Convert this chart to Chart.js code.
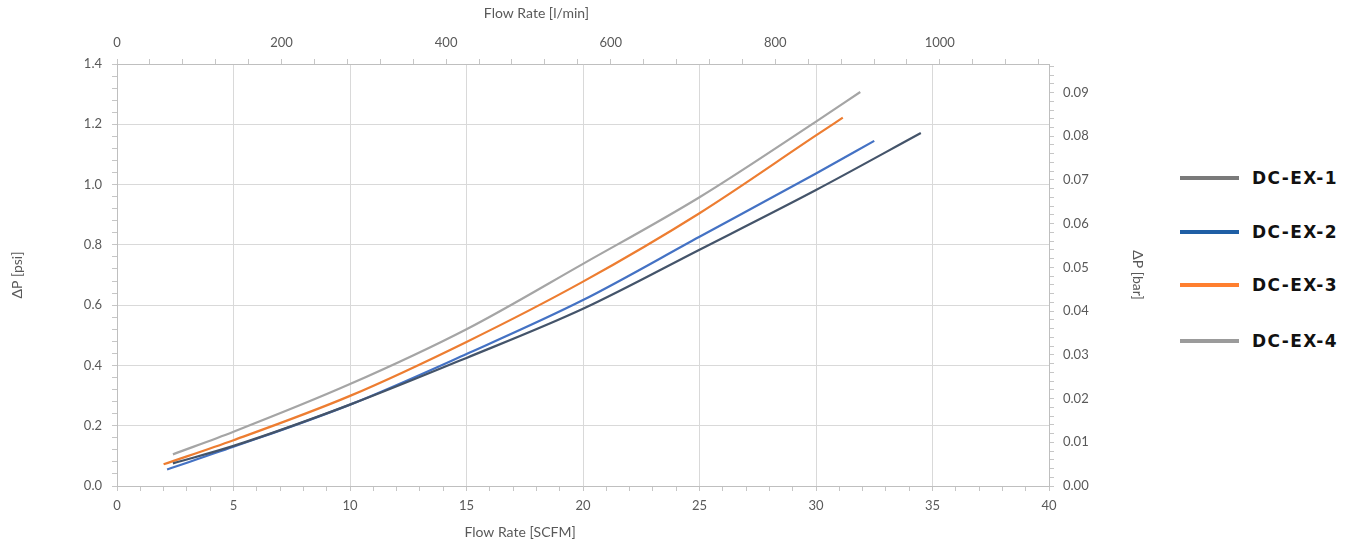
<!DOCTYPE html>
<html>
<head>
<meta charset="utf-8">
<script src="https://cdn.jsdelivr.net/npm/chart.js@4/dist/chart.umd.min.js"></script>
<style>
  html, body { margin: 0; padding: 0; background: #ffffff; }
  #wrap { position: relative; width: 1356px; height: 545px; }
  #c { position: absolute; left: 0; top: 0; }
  #legend { position: absolute; left: 1178px; top: 0; }
  .item { position: absolute; left: 0; width: 180px; height: 24px; }
  .swatch { position: absolute; left: 2px; width: 59px; height: 4px; top: 10px; }
  .lbl { position: absolute; left: 74px; top: 0; font-family: "DejaVu Sans", sans-serif; font-weight: bold; font-size: 17px;
         line-height: 24px; letter-spacing: 1.4px; color: #111111; white-space: nowrap; }
</style>
</head>
<body>
<div id="wrap">
  <canvas id="c" width="1160" height="545"></canvas>
  <div id="legend"></div>
</div>
<script>
// ---- data ----
const seriesNames = ['DC-EX-1', 'DC-EX-2', 'DC-EX-3', 'DC-EX-4'];
const flowEx1 = [2.4, 5, 10, 15, 20, 25, 30, 34.5];
const dpEx1   = [0.075, 0.133, 0.270, 0.425, 0.588, 0.784, 0.982, 1.171];
const flowEx2 = [2.15, 5, 10, 15, 20, 25, 30, 32.5];
const dpEx2   = [0.055, 0.130, 0.270, 0.438, 0.617, 0.827, 1.037, 1.145];
const flowEx3 = [2.0, 5, 10, 15, 20, 25, 30, 31.15];
const dpEx3   = [0.072, 0.152, 0.299, 0.478, 0.678, 0.905, 1.163, 1.222];
const flowEx4 = [2.4, 5, 10, 15, 20, 25, 30, 31.9];
const dpEx4   = [0.105, 0.180, 0.338, 0.520, 0.737, 0.958, 1.209, 1.307];

const lineColors   = ['#44546a', '#4472c4', '#ed7d31', '#a5a5a5'];
const legendColors = ['#7a7a7a', '#1f5fa5', '#ff7f2f', '#9b9b9b'];

const SCFM_TO_LPM = 28.3168;
const PSI_TO_BAR = 0.0689476;
const flowMax = 40, dpMax = 1.4;

// ---- helpers ----
const flows = [flowEx1, flowEx2, flowEx3, flowEx4];
const dps = [dpEx1, dpEx2, dpEx3, dpEx4];

function isMajor(v, step) {
  const r = v / step;
  return Math.abs(r - Math.round(r)) < 1e-6;
}
function minorTicks(minor) {
  return function (scale) {
    const out = [];
    const n = Math.floor(scale.max / minor + 1e-9);
    for (let i = 0; i <= n; i++) out.push({ value: +(i * minor).toFixed(6) });
    scale.ticks = out;
  };
}
const axisFont = { family: 'Lato, "Open Sans", sans-serif', size: 13 };
const titleFont = { family: 'Lato, "Open Sans", sans-serif', size: 14 };
const textColor = '#595959';
const gridCol = '#d9d9d9';
const tickCol = '#c6c6c6';

function gridFor(step, onArea) {
  return {
    drawOnChartArea: onArea,
    color: ctx => (ctx.tick && isMajor(ctx.tick.value, step)) ? gridCol : 'rgba(0,0,0,0)',
    tickColor: tickCol,
    tickLength: 5,
    lineWidth: 1
  };
}

// horizontal axis titles sit left of centre in the reference
const xTitles = [
  { scale: 'x', text: 'Flow Rate [SCFM]', at: 17.3, y: 532 },
  { scale: 'x', text: 'Flow Rate [l/min]', at: 18.0, y: 13 }
];
const xTitlePlugin = {
  id: 'xTitles',
  afterDraw(chart) {
    const ctx = chart.ctx;
    ctx.save();
    ctx.fillStyle = textColor;
    ctx.font = titleFont.size + 'px ' + titleFont.family;
    ctx.textAlign = 'center';
    ctx.textBaseline = 'middle';
    xTitles.forEach(t => {
      ctx.fillText(t.text, chart.scales[t.scale].getPixelForValue(t.at), t.y);
    });
    ctx.restore();
  }
};

const datasets = seriesNames.map((name, k) => ({
  label: name,
  data: flows[k].map((x, i) => ({ x: x, y: dps[k][i] })),
  borderColor: lineColors[k],
  backgroundColor: lineColors[k],
  borderWidth: 2.2,
  pointRadius: 0,
  showLine: true,
  cubicInterpolationMode: 'monotone',
  xAxisID: 'x',
  yAxisID: 'y'
}));

new Chart(document.getElementById('c'), {
  type: 'scatter',
  data: { datasets: datasets },
  plugins: [xTitlePlugin],
  options: {
    responsive: false,
    animation: false,
    layout: { padding: { left: 6, right: 11, top: 0, bottom: 0 } },
    plugins: { legend: { display: false }, tooltip: { enabled: false } },
    scales: {
      x: {
        type: 'linear', position: 'bottom', min: 0, max: flowMax,
        afterBuildTicks: minorTicks(1),
        afterFit: s => { s.height = 59; },
        grid: gridFor(5, true),
        border: { color: '#bfbfbf' },
        ticks: { autoSkip: false, maxRotation: 0, padding: 7, color: textColor, font: axisFont,
                 callback: v => isMajor(v, 5) ? String(Math.round(v)) : '' },
        title: { display: false }
      },
      xTop: {
        type: 'linear', position: 'top', min: 0, max: flowMax * SCFM_TO_LPM,
        afterBuildTicks: minorTicks(40),
        afterFit: s => { s.height = 64; },
        grid: gridFor(200, false),
        border: { color: '#bfbfbf' },
        ticks: { autoSkip: false, maxRotation: 0, padding: 8, color: textColor, font: axisFont,
                 callback: v => isMajor(v, 200) ? String(Math.round(v)) : '' },
        title: { display: false }
      },
      y: {
        type: 'linear', position: 'left', min: 0, max: dpMax,
        afterBuildTicks: minorTicks(0.04),
        afterFit: s => { s.width = 111; },
        grid: gridFor(0.2, true),
        border: { color: '#bfbfbf' },
        ticks: { autoSkip: false, padding: 10, color: textColor, font: axisFont,
                 callback: v => isMajor(v, 0.2) ? v.toFixed(1) : '' },
        title: { display: true, text: 'ΔP [psi]', color: textColor, font: titleFont, padding: { top: 3, bottom: 2 } }
      },
      y2: {
        type: 'linear', position: 'right', min: 0, max: dpMax * PSI_TO_BAR,
        afterBuildTicks: minorTicks(0.002),
        afterFit: s => { s.width = 100; },
        grid: gridFor(0.01, false),
        border: { color: '#bfbfbf' },
        ticks: { autoSkip: false, padding: 9, color: textColor, font: axisFont,
                 callback: v => isMajor(v, 0.01) ? v.toFixed(2) : '' },
        title: { display: true, text: 'ΔP [bar]', color: textColor, font: titleFont, padding: { top: 3, bottom: 2 } }
      }
    }
  }
});

// ---- HTML legend (separate legend graphic in the reference) ----
const legendRowsTop = [166, 220, 273, 329];
const legend = document.getElementById('legend');
seriesNames.forEach((name, k) => {
  const it = document.createElement('div');
  it.className = 'item';
  it.style.top = legendRowsTop[k] + 'px';
  const sw = document.createElement('div');
  sw.className = 'swatch';
  sw.style.background = legendColors[k];
  const lb = document.createElement('div');
  lb.className = 'lbl';
  lb.textContent = name;
  it.appendChild(sw);
  it.appendChild(lb);
  legend.appendChild(it);
});
</script>
</body>
</html>
